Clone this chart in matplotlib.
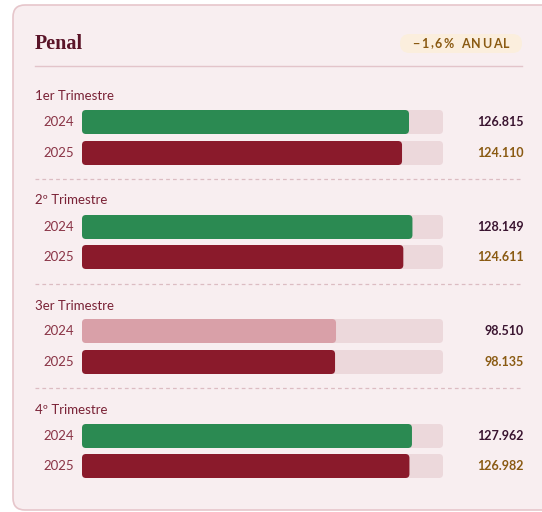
import matplotlib
matplotlib.use("Agg")
import matplotlib.pyplot as plt
from matplotlib.patches import FancyBboxPatch

# data
quarters = ["1er Trimestre", "2º Trimestre", "3er Trimestre", "4º Trimestre"]
years = ["2024", "2025"]
values_2024 = [126815, 128149, 98510, 127962]
values_2025 = [124110, 124611, 98135, 126982]
labels_2024 = ["126.815", "128.149", "98.510", "127.962"]
labels_2025 = ["124.110", "124.611", "98.135", "126.982"]
colors_2024 = ["#2b8a52", "#2b8a52", "#d9a0a8", "#2b8a52"]
bar_max = 140000
title = "Penal"
badge = "\u22121,6% ANUAL"

RED = "#8a1a2b"
TRACK = "#ecd8db"
CARD = "#f8eef0"

plt.rcParams['font.family'] = ['Lato', 'DejaVu Sans']

fig = plt.figure(figsize=(5.42, 5.12), dpi=100)
W, H = 542, 512

# background layout axes in pixel coords
bg = fig.add_axes([0, 0, 1, 1])
bg.set_xlim(0, W)
bg.set_ylim(H, 0)
bg.axis("off")

card = FancyBboxPatch((13, 5), 545, 505, boxstyle="round,pad=0,rounding_size=12",
                      fc=CARD, ec="#e6c6cb", lw=1.2)
bg.add_patch(card)

bg.text(35, 44, title, fontsize=14.5, fontweight="bold", color="#5a1428",
        family=["Liberation Serif", "DejaVu Serif"], va="center", ha="left")
pill = FancyBboxPatch((400, 34), 122, 19, boxstyle="round,pad=0,rounding_size=9.5",
                      fc="#fbeedd", ec="none")
bg.add_patch(pill)

# badge text with letter spacing
renderer = fig.canvas.get_renderer()
widths = []
for ch in badge:
    t = bg.text(0, 0, ch if ch != " " else "n", fontsize=9, fontweight="bold")
    w = t.get_window_extent(renderer).width
    if ch == " ":
        w = w * 0.5
    widths.append(w)
    t.remove()
spacing = 1.6
total = sum(widths) + spacing * (len(badge) - 1)
xx = 461 - total / 2
for ch, w in zip(badge, widths):
    if ch != " ":
        bg.text(xx, 43.5, ch, fontsize=9, fontweight="bold", color="#8a5a12",
                va="center", ha="left")
    xx += w + spacing

bg.plot([35, 522], [66, 66], color="#e3c4ca", lw=1)

label_y = [96, 200, 306, 410]
bar_y = [(122, 153), (227, 257), (331, 362), (436, 466)]
for y in [179, 284, 388]:
    bg.plot([35, 522], [y, y], color="#dcbcc2", lw=0.9, ls=(0, (3, 2.5)))

# bar axes: x from pixel 82 to 443
x0, x1 = 82, 443
ax = fig.add_axes([x0 / W, 0, (x1 - x0) / W, 1])
ax.set_xlim(0, bar_max)
ax.set_ylim(H, 0)
ax.axis("off")
ax.patch.set_alpha(0)

px = bar_max / (x1 - x0)
bh = 24

def rbar(y, val, color):
    b = ax.barh(y, val, height=bh, color=color)[0]
    b.set_visible(False)
    p = FancyBboxPatch((b.get_x(), b.get_y()), b.get_width(), b.get_height(),
                       boxstyle="round,pad=0,rounding_size=%f" % (4 * px),
                       mutation_aspect=1 / px, fc=color, ec="none")
    ax.add_patch(p)

for i, q in enumerate(quarters):
    bg.text(35, label_y[i], q, fontsize=9.5, color="#7a2236", va="center", ha="left")
    y24, y25 = bar_y[i]
    rbar(y24, bar_max, TRACK)
    rbar(y25, bar_max, TRACK)
    rbar(y24, values_2024[i], colors_2024[i])
    rbar(y25, values_2025[i], RED)
    bg.text(74, y24, years[0], fontsize=9.5, color="#8a3446", va="center", ha="right")
    bg.text(74, y25, years[1], fontsize=9.5, color="#8a3446", va="center", ha="right")
    bg.text(524, y24, labels_2024[i], fontsize=9, fontweight="bold", color="#3a1430",
            va="center", ha="right")
    bg.text(524, y25, labels_2025[i], fontsize=9, fontweight="bold", color="#8a5a12",
            va="center", ha="right")

fig.savefig("out.png", dpi=100, facecolor="white")
